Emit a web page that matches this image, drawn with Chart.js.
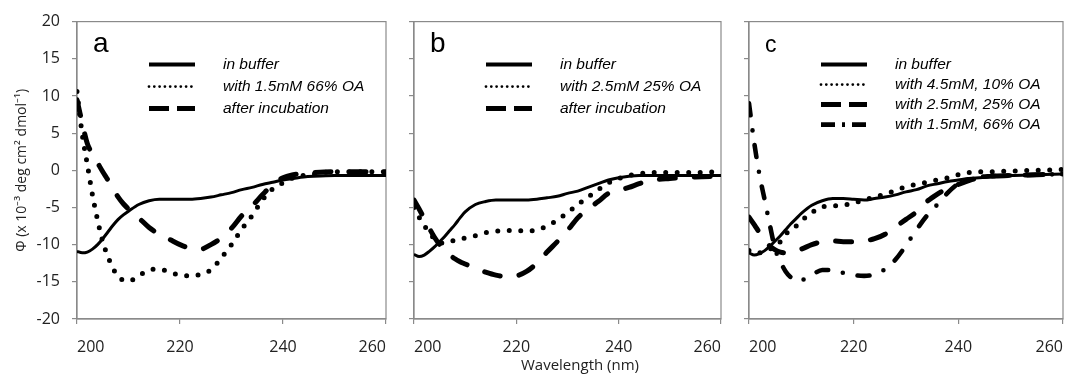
<!DOCTYPE html>
<html>
<head>
<meta charset="utf-8">
<script src="https://cdn.jsdelivr.net/npm/chart.js@4.4.1/dist/chart.umd.min.js"></script>
<style>
  body { margin: 0; background: #fff; }
  #wrap { position: relative; width: 1077px; height: 376px; }
  canvas { position: absolute; top: 0; }
</style>
</head>
<body>
<div id="wrap">
  <canvas id="chartA" width="400" height="376" style="left:0px"></canvas>
  <canvas id="chartB" width="335" height="376" style="left:400px"></canvas>
  <canvas id="chartC" width="342" height="376" style="left:735px"></canvas>
</div>
<script>
// wavelength grid (nm) shared by all curves
const wavelength = [200,201,202,203,204,205,206,207,208,209,210,
  212,214,216,218,220,222,224,226,228,230,232,234,236,238,240,242,244,246,
  250,255,260];

// panel a
const aLabels = ['in buffer', 'with 1.5mM 66% OA', 'after incubation'];
const aBuffer = [-10.9,-11.1,-11.0,-10.6,-10.0,-9.2,-8.3,-7.4,-6.6,-6.0,-5.5,
  -4.6,-4.1,-3.9,-3.9,-3.9,-3.9,-3.8,-3.6,-3.3,-3.0,-2.6,-2.3,-1.9,-1.6,-1.3,-1.1,-0.9,-0.8,
  -0.7,-0.7,-0.7];
const aOA = [10.6,4.9,0.8,-3.3,-6.7,-9.6,-11.6,-13.2,-14.3,-14.8,-14.9,
  -14.2,-13.4,-13.3,-13.7,-14.1,-14.2,-14.0,-13.4,-11.8,-10.0,-7.9,-6.1,-4.0,-2.5,-1.7,-1.0,-0.7,-0.5,
  -0.2,-0.2,-0.2];
const aIncubated = [9.5,6.4,3.6,2.2,1.0,-0.2,-1.3,-2.5,-3.6,-4.5,-5.2,
  -6.4,-7.7,-8.6,-9.3,-10.0,-10.5,-10.6,-10.0,-9.1,-7.8,-6.1,-4.8,-3.3,-1.9,-1.0,-0.6,-0.4,-0.3,
  -0.2,-0.2,-0.2];

// panel b
const bLabels = ['in buffer', 'with 2.5mM 25% OA', 'after incubation'];
const bBuffer = [-11.3,-11.6,-11.4,-10.9,-10.3,-9.6,-8.9,-8.1,-7.3,-6.4,-5.6,
  -4.6,-4.2,-4.0,-4.0,-4.0,-4.0,-3.9,-3.7,-3.5,-3.1,-2.8,-2.3,-1.8,-1.3,-1.0,-0.8,-0.7,-0.7,
  -0.7,-0.7,-0.7];
const bOA = [-5.0,-6.3,-7.4,-8.4,-9.2,-9.7,-9.8,-9.6,-9.4,-9.2,-9.1,
  -8.8,-8.4,-8.2,-8.1,-8.1,-8.2,-8.0,-7.5,-6.7,-5.7,-4.6,-3.6,-2.6,-1.7,-1.1,-0.7,-0.5,-0.3,
  -0.3,-0.3,-0.2];
const bIncubated = [-4.0,-5.2,-6.5,-7.8,-9.0,-10.0,-10.8,-11.4,-11.9,-12.3,-12.6,
  -13.2,-13.7,-14.1,-14.3,-14.2,-13.6,-12.5,-11.0,-9.6,-8.1,-6.4,-5.2,-4.2,-3.1,-2.7,-2.3,-1.8,-1.4,
  -1.1,-0.9,-0.8];

// panel c
const cLabels = ['in buffer', 'with 4.5mM, 10% OA', 'with 2.5mM, 25% OA', 'with 1.5mM, 66% OA'];
const cBuffer = [-11.1,-11.4,-11.2,-10.8,-10.2,-9.5,-8.8,-8.0,-7.2,-6.5,-5.8,
  -4.7,-4.1,-3.8,-3.8,-3.9,-4.0,-3.8,-3.6,-3.3,-2.9,-2.6,-2.1,-1.8,-1.5,-1.3,-1.1,-1.0,-0.9,
  -0.7,-0.6,-0.5];
const c10 = [-10.8,-11.1,-11.1,-10.9,-10.6,-10.2,-9.6,-8.6,-8.0,-7.5,-6.8,
  -5.7,-4.9,-4.8,-4.7,-4.4,-4.0,-3.6,-3.2,-2.7,-2.2,-1.9,-1.6,-1.3,-1.0,-0.6,-0.3,-0.2,-0.2,
  -0.1,0.0,0.1];
const c25 = [-6.3,-7.3,-8.4,-9.4,-10.2,-10.7,-11.0,-11.1,-11.0,-10.8,-10.6,
  -10.0,-9.6,-9.5,-9.6,-9.6,-9.5,-9.2,-8.6,-7.6,-6.6,-5.6,-4.2,-3.2,-2.4,-1.9,-1.4,-1.0,-0.8,
  -0.7,-0.6,-0.5];
const c66 = [9.0,3.7,-0.6,-4.0,-7.4,-10.6,-12.3,-13.6,-14.4,-14.9,-14.8,
  -14.1,-13.4,-13.4,-13.8,-14.1,-14.2,-14.0,-13.3,-12.0,-10.1,-8.0,-6.1,-4.6,-3.0,-1.8,-1.2,-0.9,-0.8,
  -0.7,-0.6,-0.5];

const xTicks = [200, 220, 240, 260];
const yTitle = 'Φ (x 10⁻³ deg cm² dmol⁻¹)';
const xTitle = 'Wavelength (nm)';

// line styles (plot line + legend sample)
const SOLID   = { width: 3, dash: [], cap: 'butt', legend: { width: 4, dash: [], cap: 'butt' } };
const DOTTED  = { width: 5, dash: [0, 11.5], cap: 'round', legend: { width: 2.8, dash: [0, 5.3], cap: 'round' } };
const DASHED  = { width: 5, dash: [16, 19], cap: 'round', legend: { width: 5, dash: [20, 8], cap: 'butt' } };
const DASHDOT = { width: 4.6, dash: [12, 15, 0, 15], cap: 'round', legend: { width: 4.6, dash: [14, 7, 3, 7], cap: 'butt' } };

Chart.defaults.font.family = '"Open Sans", sans-serif';
Chart.defaults.color = '#222';

// frame, panel letter, legend and shared x title
const panelDecor = {
  id: 'panelDecor',
  beforeDatasetsDraw(chart) {
    const { ctx, chartArea: a } = chart;
    ctx.save();
    ctx.strokeStyle = '#8a8a8a';
    ctx.lineWidth = 1.2;
    ctx.strokeRect(a.left, a.top, a.right - a.left, a.bottom - a.top);
    ctx.restore();
  },
  afterDraw(chart, args, opts) {
    const { ctx, chartArea: a } = chart;
    ctx.save();
    ctx.fillStyle = '#000';
    ctx.font = opts.letterSize + 'px "Liberation Sans", Arial, sans-serif';
    ctx.textBaseline = 'alphabetic';
    ctx.fillText(opts.letter, a.left + 16, a.top + 30);

    ctx.font = 'italic 15.5px "Liberation Sans", Arial, sans-serif';
    ctx.textBaseline = 'middle';
    ctx.strokeStyle = '#000';
    chart.data.datasets.forEach((ds, i) => {
      const y = a.top + 43 + i * opts.rowGap;
      const st = ds.legendStyle;
      ctx.beginPath();
      ctx.setLineDash(st.dash);
      ctx.lineWidth = st.width;
      ctx.lineCap = st.cap;
      ctx.moveTo(a.left + 72, y);
      ctx.lineTo(a.left + 118, y);
      ctx.stroke();
      ctx.setLineDash([]);
      ctx.fillText(ds.label, a.left + 146, y);
    });

    if (opts.xTitle) {
      ctx.fillStyle = '#222';
      ctx.font = '15px "Open Sans", sans-serif';
      ctx.textAlign = 'center';
      ctx.fillText(opts.xTitle, a.left + 166, 366);
    }
    ctx.restore();
  }
};

function drawPanel(id, letter, labels, series, styles, opt) {
  const datasets = series.map((vals, i) => ({
    label: labels[i],
    data: wavelength.map((w, k) => ({ x: w, y: vals[k] })),
    borderColor: '#000',
    borderWidth: styles[i].width,
    borderDash: styles[i].dash,
    borderCapStyle: styles[i].cap,
    borderJoinStyle: 'round',
    pointRadius: 0,
    cubicInterpolationMode: 'monotone',
    fill: false,
    legendStyle: styles[i].legend
  }));

  return new Chart(document.getElementById(id), {
    type: 'line',
    data: { datasets },
    options: {
      responsive: false,
      animation: false,
      layout: { padding: { top: 18, right: opt.padRight, left: 0, bottom: 0 } },
      plugins: {
        legend: { display: false },
        tooltip: { enabled: false },
        panelDecor: { letter, letterSize: opt.letterSize, rowGap: opt.rowGap, xTitle: opt.xTitle }
      },
      scales: {
        x: {
          type: 'linear', min: 200, max: 260,
          afterBuildTicks: s => { s.ticks = xTicks.map(v => ({ value: v })); },
          afterFit: s => { s.height = 57; },
          grid: { drawOnChartArea: false, tickLength: 5, color: '#8a8a8a', lineWidth: 1.2 },
          border: { color: '#8a8a8a', width: 1.2 },
          ticks: { align: 'inner', padding: 14, font: { size: 16 }, color: '#222' }
        },
        y: {
          min: -20, max: 20,
          afterFit: s => { s.width = opt.yWidth; },
          grid: { drawOnChartArea: false, tickLength: 5, color: '#8a8a8a', lineWidth: 1.2 },
          border: { color: '#8a8a8a', width: 1.2 },
          ticks: {
            stepSize: 5, padding: 12, font: { size: 16 }, color: '#222',
            callback: v => opt.yLabels ? v : ''
          },
          title: {
            display: !!opt.yTitle, text: opt.yTitle || '',
            font: { size: 14 }, color: '#222', padding: { top: 14, bottom: 0 }
          }
        }
      }
    },
    plugins: [panelDecor]
  });
}

drawPanel('chartA', 'a', aLabels, [aBuffer, aOA, aIncubated], [SOLID, DOTTED, DASHED],
  { yWidth: 77, padRight: 6, yLabels: true, yTitle: yTitle, letterSize: 28, rowGap: 22 });
drawPanel('chartB', 'b', bLabels, [bBuffer, bOA, bIncubated], [SOLID, DOTTED, DASHED],
  { yWidth: 12, padRight: 6, yLabels: false, xTitle: xTitle, letterSize: 28, rowGap: 22 });
drawPanel('chartC', 'c', cLabels, [cBuffer, c10, c25, c66], [SOLID, DOTTED, DASHED, DASHDOT],
  { yWidth: 13, padRight: 11, yLabels: false, letterSize: 23, rowGap: 20 });
</script>
</body>
</html>
